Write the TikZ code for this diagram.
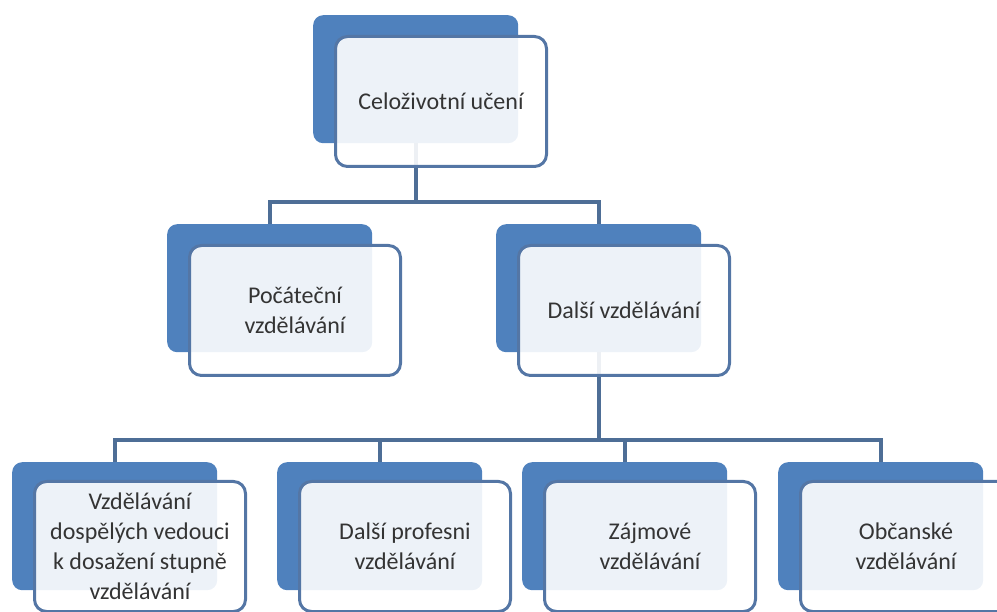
\documentclass[tikz,border=0pt]{standalone}
\usepackage{fontspec}
\setmainfont{Carlito}
\usepackage{tikz}
\usetikzlibrary{positioning}

\definecolor{backblue}{RGB}{79,129,189}
\definecolor{frameblue}{RGB}{84,118,165}
\definecolor{linkblue}{RGB}{78,110,150}
\definecolor{textgray}{RGB}{52,52,52}

\begin{document}
\begin{tikzpicture}[x=1pt, y=-1pt,
		backbox/.style={rectangle, rounded corners=10pt, fill=backblue, inner sep=0pt,
			minimum width=205pt, minimum height=128pt, anchor=north west},
		frontbox/.style={rectangle, rounded corners=12pt, draw=frameblue, line width=3pt,
			fill=white, fill opacity=0.9, text opacity=1, text=textgray, align=center,
			minimum width=211pt, minimum height=130pt, inner sep=0pt},
		link/.style={draw=linkblue, line width=3.6pt},
		font=\fontsize{24}{30}\selectfont]
		\clip (0,0) rectangle (997,612);
		% back boxes
		\node[backbox] (life) at (313,15) {};
		\node[backbox] (init) at (167,224) {};
		\node[backbox] (further) at (496,224) {};
		\node[backbox] (adult) at (12,462) {};
		\node[backbox] (prof) at (277,462) {};
		\node[backbox] (hobby) at (522,462) {};
		\node[backbox] (civic) at (778,462) {};
		% connectors
		\coordinate (bus1) at (0,202);
		\coordinate (bus2) at (0,440);
		\draw[link] (life.south) -- (life.south |- bus1);
		\draw[link] (init.north) |- (life.south |- bus1) -| (further.north);
		\draw[link] (further.south) -- (further.south |- bus2);
		\foreach \n in {adult,prof,hobby,civic}
			\draw[link] (further.south |- bus2) -| (\n.north);
		% front boxes
		\node[frontbox, below right=20pt and 21pt of life.north west] (lifeF) {Celoživotní učení};
		\node[frontbox, below right=20pt and 21pt of init.north west] (initF) {Počáteční\\vzdělávání};
		\node[frontbox, below right=20pt and 21pt of further.north west] (furtherF) {Další vzdělávání};
		\node[frontbox, below right=18pt and 21pt of adult.north west] (adultF) {Vzdělávání\\dospělých vedouci\\k dosažení stupně\\vzdělávání};
		\node[frontbox, below right=18pt and 21pt of prof.north west] (profF) {Další profesni\\vzdělávání};
		\node[frontbox, below right=18pt and 21pt of hobby.north west] (hobbyF) {Zájmové\\vzdělávání};
		\node[frontbox, below right=18pt and 21pt of civic.north west] (civicF) {Občanské\\vzdělávání};
	\end{tikzpicture}
\end{document}
